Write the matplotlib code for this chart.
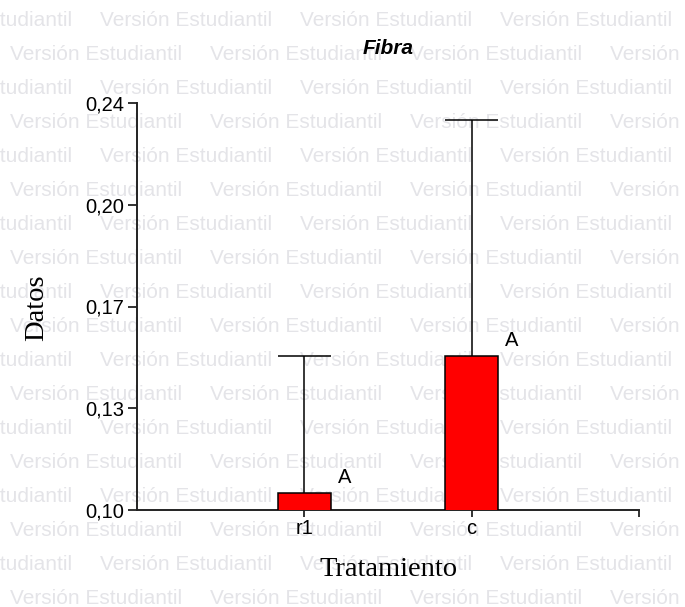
import matplotlib
matplotlib.use("Agg")
import matplotlib.pyplot as plt

# datos (InfoStat)
treatments = ["r1", "c"]
means = [0.106, 0.153]
upper_err = [0.047, 0.081]
letters = ["A", "A"]
yticks = [0.10, 0.135, 0.17, 0.205, 0.24]
ytick_labels = ["0,10", "0,13", "0,17", "0,20", "0,24"]
watermark = "Versión Estudiantil"

W, H = 685, 607
sans = ["Liberation Sans", "DejaVu Sans"]
serif = ["Liberation Serif", "DejaVu Serif"]

fig = plt.figure(figsize=(W / 100, H / 100), dpi=100)
fig.patch.set_facecolor("white")

# marca de agua de fondo
for row in range(18):
    base = 26 + 34 * row
    start = -100 if row % 2 == 0 else 10
    for j in range(5):
        fig.text((start + 200 * j) / W, 1 - base / H, watermark,
                 family=sans, fontsize=15, color="#e4e4e8",
                 ha="left", va="baseline", zorder=-5)

ax = fig.add_axes([137 / W, 1 - 510 / H, (639 - 137) / W, (510 - 103) / H])
ax.set_facecolor("none")

x = list(range(1, len(treatments) + 1))
width = 0.32
ax.bar(x, means, width=width, color="#ff0000", edgecolor="black",
       linewidth=1.1, zorder=3)

tops = [m + e for m, e in zip(means, upper_err)]
ax.vlines(x, means, tops, color="black", linewidth=1.1, zorder=2)
ax.hlines(tops, [xi - width / 2 for xi in x], [xi + width / 2 for xi in x],
          color="black", linewidth=1.1, zorder=2)

for xi, m, lab in zip(x, means, letters):
    ax.annotate(lab, (xi, m), xytext=(29, 11), textcoords="offset points",
                ha="center", va="center", family=sans, fontsize=14.5)

ax.set_xlim(0, 3)
ax.set_ylim(0.10, 0.24)
ax.set_xticks([1, 2, 3])
ax.set_xticklabels(treatments + [""])
ax.set_yticks(yticks)
ax.set_yticklabels(ytick_labels)

for s in ["top", "right"]:
    ax.spines[s].set_visible(False)
for s in ["left", "bottom"]:
    ax.spines[s].set_linewidth(1.4)
    ax.spines[s].set_color("#222222")

ax.tick_params(axis="y", length=6.5, width=1.3, pad=3, labelsize=14.5,
               color="#222222")
ax.tick_params(axis="x", length=5, width=1.3, pad=1.5, labelsize=14.5,
               color="#222222")
for t in ax.get_xticklabels() + ax.get_yticklabels():
    t.set_family(sans)

ax.text(0.5, 1 + (103 - 49) / 407, "Fibra", transform=ax.transAxes,
        ha="center", va="center", family=sans, fontsize=15,
        fontweight="bold", style="italic")

fig.text(388 / W, 1 - 570 / H, "Tratamiento", family=serif, fontsize=20.5,
         ha="center", va="center")
fig.text(37 / W, 1 - 308 / H, "Datos", family=serif, fontsize=20.5,
         rotation=90, ha="center", va="center")

fig.savefig("out.png", dpi=100)
